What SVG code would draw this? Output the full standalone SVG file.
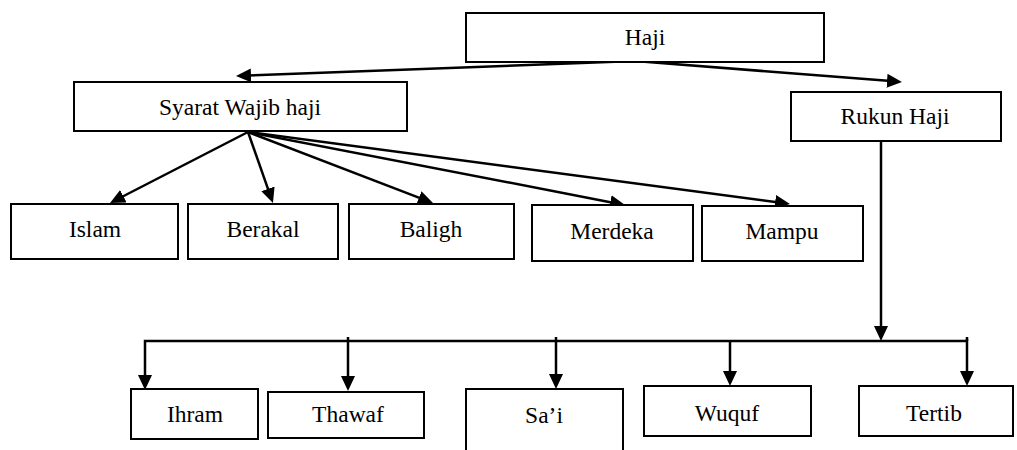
<svg xmlns="http://www.w3.org/2000/svg" width="1017" height="450" viewBox="0 0 1017 450">
<style>
.box{fill:#fff;stroke:#000;stroke-width:2}
.lbl{font-family:'Liberation Serif','Tinos','Times New Roman','DejaVu Serif','Noto Serif',serif;font-size:23.5px;fill:#000;text-anchor:middle}
.con{fill:none;stroke:#000;stroke-width:2.5}
.arr{marker-end:url(#ah)}
</style>
<defs>
<marker id="ah" markerUnits="userSpaceOnUse" markerWidth="16" markerHeight="15" refX="4" refY="7" orient="auto" viewBox="0 0 16 15">
<path d="M0,0 L15,7 L0,14 z" fill="#000"/>
</marker>
</defs>
<rect x="0" y="0" width="1017" height="450" fill="#fff"/>
<g id="connectors">
<line class="con arr" x1="635" y1="61" x2="247" y2="75.6"/>
<line class="con arr" x1="635" y1="61" x2="891" y2="81.1"/>
<line class="con arr" x1="248" y1="132" x2="119.8" y2="198"/>
<line class="con arr" x1="248" y1="132" x2="269.3" y2="192.6"/>
<line class="con arr" x1="248" y1="132" x2="422.7" y2="199.1"/>
<line class="con arr" x1="248" y1="132" x2="614.2" y2="202.9"/>
<line class="con arr" x1="248" y1="132" x2="779.1" y2="202.5"/>
<line class="con arr" x1="881" y1="141" x2="881" y2="330"/>
<polyline class="con arr" points="967,341 145,341 145,379"/>
<line class="con" x1="967" y1="337" x2="967" y2="341"/>
<line class="con arr" x1="348" y1="337" x2="348" y2="380"/>
<line class="con arr" x1="556" y1="337" x2="556" y2="378"/>
<line class="con arr" x1="730" y1="341" x2="730" y2="375"/>
<line class="con arr" x1="967" y1="339" x2="967" y2="375"/>
</g>
<g id="haji"><rect class="box" x="466" y="13" width="358" height="49"/><text class="lbl" x="645" y="45">Haji</text></g>
<g id="syarat"><rect class="box" x="74" y="82" width="333" height="49"/><text class="lbl" x="240" y="115">Syarat Wajib haji</text></g>
<g id="rukun"><rect class="box" x="791" y="92" width="210" height="49"/><text class="lbl" x="895" y="124">Rukun Haji</text></g>
<g id="islam"><rect class="box" x="11" y="204" width="167" height="55"/><text class="lbl" x="95" y="237">Islam</text></g>
<g id="berakal"><rect class="box" x="188" y="204" width="150" height="55"/><text class="lbl" x="263" y="237">Berakal</text></g>
<g id="baligh"><rect class="box" x="349" y="204" width="165" height="55"/><text class="lbl" x="431" y="237">Baligh</text></g>
<g id="merdeka"><rect class="box" x="532" y="205" width="161" height="56"/><text class="lbl" x="612" y="239">Merdeka</text></g>
<g id="mampu"><rect class="box" x="702" y="206" width="161" height="55"/><text class="lbl" x="782" y="239">Mampu</text></g>
<g id="ihram"><rect class="box" x="131" y="389" width="127" height="50"/><text class="lbl" x="195" y="422">Ihram</text></g>
<g id="thawaf"><rect class="box" x="268" y="392" width="156" height="46"/><text class="lbl" x="348" y="422">Thawaf</text></g>
<g id="sai"><rect class="box" x="466" y="389" width="157" height="80"/><text class="lbl" x="544" y="423">Sa’i</text></g>
<g id="wuquf"><rect class="box" x="644" y="386" width="167" height="50"/><text class="lbl" x="727" y="421">Wuquf</text></g>
<g id="tertib"><rect class="box" x="859" y="386" width="154" height="50"/><text class="lbl" x="934" y="421">Tertib</text></g>
</svg>
